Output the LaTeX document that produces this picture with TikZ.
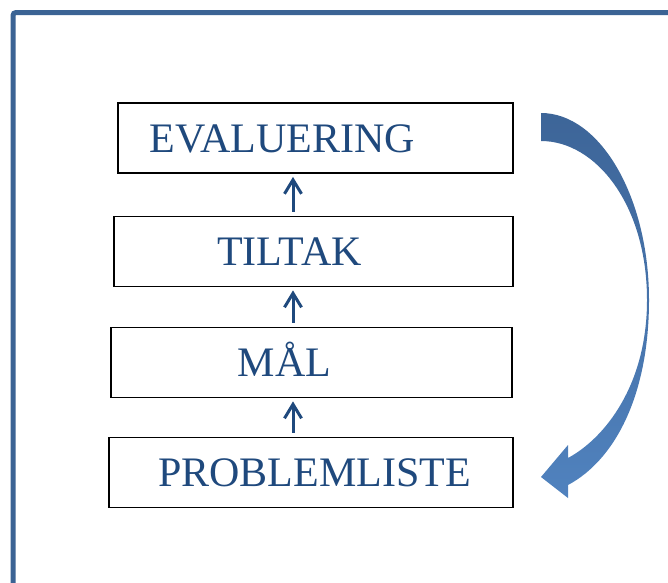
\documentclass[tikz,border=0pt]{standalone}
\usepackage{fontspec}
\setmainfont{Liberation Serif}
\usepackage{xcolor}
\usetikzlibrary{arrows.meta,positioning,calc}
\definecolor{framebluedark}{RGB}{59,99,148}
\definecolor{textblue}{RGB}{31,73,125}
\definecolor{cycletop}{RGB}{61,101,152}
\definecolor{cyclebottom}{RGB}{80,130,190}
\tikzset{
    % Define standard node styles
    stepbox/.style={
        rectangle, draw=black, line width=1.8pt, fill=white,
        minimum height=70pt, inner sep=0pt
    },
    steplabel/.style={
        text=textblue, font=\fontsize{42}{50}\selectfont,
        text height=28.5pt, text depth=0pt, inner sep=0pt
    },
    uparrow/.style={
        -{Straight Barb[length=14pt, width=17pt, line width=3pt]},
        line width=3pt, color=textblue, shorten <=4pt, shorten >=3pt
    },
    framebar/.style={
        line width=5pt, color=framebluedark, rounded corners=3pt
    },
    cyclearrow/.style={
        top color=cycletop, bottom color=cyclebottom, draw=none
    }
}

\begin{document}
\begin{tikzpicture}[x=1pt, y=-1pt]
\useasboundingbox (0,0) rectangle (668,582);

% outer frame
\draw[framebar] (13,590) -- (13,12.5) -- (680,12.5);

\node[stepbox, minimum width=395pt,
      label={[steplabel, xshift=-33pt]center:EVALUERING}] (eval) at (315.5,138) {};
\node[stepbox, minimum width=399pt,
      label={[steplabel, xshift=-24pt]center:TILTAK}] (tiltak) at (313.5,251.5) {};
\node[stepbox, minimum width=401pt,
      label={[steplabel, xshift=-27pt]center:MÅL}] (mal) at (311.5,362.5) {};
\node[stepbox, minimum width=404pt,
      label={[steplabel, xshift=3.5pt]center:PROBLEMLISTE}] (prob) at (311,472.5) {};

\coordinate (axis) at (293,0);
\draw[uparrow] (tiltak.north -| axis) -- (eval.south -| axis);
\draw[uparrow] (mal.north -| axis) -- (tiltak.south -| axis);
\draw[uparrow] (prob.north -| axis) -- (mal.south -| axis);

% curved block arrow back down
\shade[cyclearrow] (541,113) .. controls (600,113) and (649,197) .. (649,300)
    .. controls (649,395) and (615,460) .. (568,485) -- (568,498) -- (541,477)
    -- (568,445) -- (568,458) .. controls (605,438) and (647,385) .. (647,300)
    .. controls (647,205) and (596,141) .. (541,141) -- cycle;

\end{tikzpicture}
\end{document}
